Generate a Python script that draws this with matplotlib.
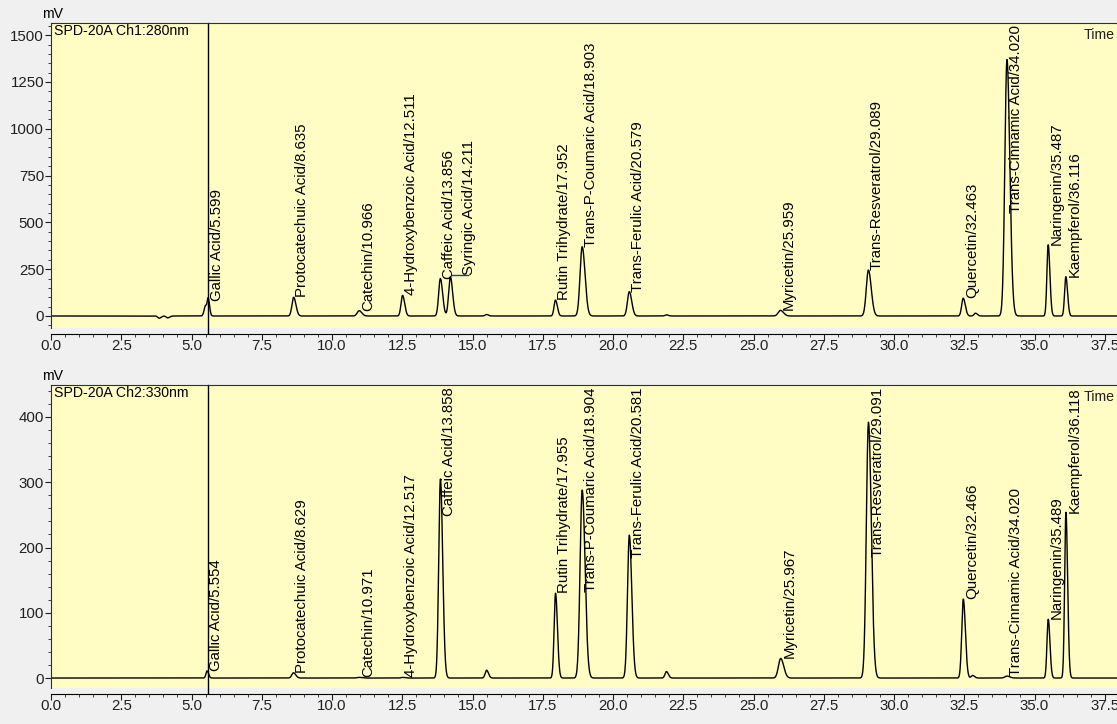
import numpy as np
import matplotlib
matplotlib.use("Agg")
import matplotlib.pyplot as plt
from matplotlib.ticker import MultipleLocator, FormatStrFormatter

plt.rcParams["font.family"] = ["Liberation Sans", "DejaVu Sans"]

# ---------------------------------------------------------------- data
# Ch1 : 280 nm
ch1_names = ["Gallic Acid", "Protocatechuic Acid", "Catechin", "4-Hydroxybenzoic Acid",
             "Caffeic Acid", "Syringic Acid", "Rutin Trihydrate", "Trans-P-Coumaric Acid",
             "Trans-Ferulic Acid", "Myricetin", "Trans-Resveratrol", "Quercetin",
             "Trans-Cinnamic Acid", "Naringenin", "Kaempferol"]
ch1_rt = [5.599, 8.635, 10.966, 12.511, 13.856, 14.211, 17.952, 18.903,
          20.579, 25.959, 29.089, 32.463, 34.020, 35.487, 36.116]
ch1_height = [78, 100, 28, 110, 200, 210, 85, 370, 130, 30, 245, 95, 1370, 380, 210]
ch1_sigma = [0.035, 0.06, 0.07, 0.055, 0.06, 0.06, 0.05, 0.075,
             0.065, 0.08, 0.075, 0.055, 0.075, 0.045, 0.045]
# unlabelled bumps / dips on the Ch1 baseline
ch1_minor_rt = [3.85, 4.15, 5.50, 15.5, 21.9, 32.9]
ch1_minor_height = [-12, -10, 55, 8, 6, 15]

# Ch2 : 330 nm (no Syringic acid)
ch2_names = ["Gallic Acid", "Protocatechuic Acid", "Catechin", "4-Hydroxybenzoic Acid",
             "Caffeic Acid", "Rutin Trihydrate", "Trans-P-Coumaric Acid",
             "Trans-Ferulic Acid", "Myricetin", "Trans-Resveratrol", "Quercetin",
             "Trans-Cinnamic Acid", "Naringenin", "Kaempferol"]
ch2_rt = [5.554, 8.629, 10.971, 12.517, 13.858, 17.955, 18.904,
          20.581, 25.967, 29.091, 32.466, 34.020, 35.489, 36.118]
ch2_height = [11, 8, 1, 1, 305, 130, 288, 219, 30, 392, 121, 3, 90, 254]
ch2_sigma = [0.04, 0.06, 0.07, 0.055, 0.06, 0.05, 0.075,
             0.065, 0.08, 0.075, 0.055, 0.075, 0.045, 0.045]
ch2_minor_rt = [15.5, 21.9, 32.8]
ch2_minor_height = [12, 10, 4]

event_time = 5.58
BG = "#f0f0f0"
PLOT_BG = "#fffdc4"
FS = 10.8


def trace(t, rts, heights, sigmas):
    y = np.zeros_like(t)
    for rt, h, s in zip(rts, heights, sigmas):
        # a little tailing on the right side
        sd = np.where(t < rt, s, s * 1.35)
        y += h * np.exp(-0.5 * ((t - rt) / sd) ** 2)
    return y


def panel(fig, rect, title, names, rts, heights, sigmas, mrt, mh, ylim, major, minor):
    ax = fig.add_axes(rect, facecolor=PLOT_BG)
    t = np.linspace(0, 40, 12000)
    y = trace(t, rts, heights, sigmas) + trace(t, mrt, mh, [0.05] * len(mrt))
    ax.plot(t, y, color="black", lw=1.0)
    ax.set_xlim(0, 40)
    ax.set_ylim(*ylim)

    ax.axvline(event_time, ymin=-0.015, ymax=1, color="black", lw=1.0, clip_on=False)

    for s in ("top", "left"):
        ax.spines[s].set_color("#303030")
    ax.spines["right"].set_visible(False)
    ax.spines["bottom"].set_position(("outward", 4))
    ax.xaxis.set_major_locator(MultipleLocator(2.5))
    ax.xaxis.set_minor_locator(MultipleLocator(0.5))
    ax.xaxis.set_major_formatter(FormatStrFormatter("%.1f"))
    ax.yaxis.set_major_locator(MultipleLocator(major))
    ax.yaxis.set_minor_locator(MultipleLocator(minor))
    ax.tick_params(which="major", length=4, labelsize=FS, pad=1, colors="#202020")
    ax.tick_params(which="minor", length=2.5, colors="#202020")
    ax.tick_params(axis="x", pad=0)

    ax.text(0.003, 0.997, title, transform=ax.transAxes, fontsize=FS - 0.6,
            ha="left", va="top")
    ax.text(36.75, 0.985, "Time", transform=ax.get_xaxis_transform(),
            fontsize=FS - 0.6, ha="left", va="top", color="#202020")
    fig.text(rect[0] - 0.008, rect[1] + rect[3] + 0.003, "mV", fontsize=FS - 0.6,
             ha="left", va="bottom")

    # peak labels: rotated, sitting on the apex, pushed down if they overflow
    labels = []
    prev_x = -10
    for name, rt, h in zip(names, rts, heights):
        lx = rt + 0.06
        if lx - prev_x < 0.5:
            lx = prev_x + 0.72
            ax.plot([rt + 0.05, lx + 0.2], [h + 8 * major / 250, h + 8 * major / 250],
                    color="#3030a0", lw=1.0)
            h = h + 8 * major / 250
        prev_x = lx
        txt = ax.text(lx, h, f"{name}/{rt:.3f}", rotation=90, fontsize=FS,
                      ha="left", va="bottom")
        labels.append(txt)
    return ax, labels


fig = plt.figure(figsize=(11.17, 7.24), dpi=100, facecolor=BG)
W = 40 * 28.1 / 1117
ax1, lab1 = panel(fig, [51 / 1117, 0.547, W, 0.421], "SPD-20A Ch1:280nm",
                  ch1_names, ch1_rt, ch1_height, ch1_sigma,
                  ch1_minor_rt, ch1_minor_height, (-64, 1564), 250, 50)
ax2, lab2 = panel(fig, [51 / 1117, 0.0497, W, 0.4185], "SPD-20A Ch2:330nm",
                  ch2_names, ch2_rt, ch2_height, ch2_sigma,
                  ch2_minor_rt, ch2_minor_height, (-15.3, 449), 100, 20)

fig.canvas.draw()
renderer = fig.canvas.get_renderer()
for ax, labels in ((ax1, lab1), (ax2, lab2)):
    top = ax.bbox.y1 - 2
    inv = ax.transData.inverted()
    for txt in labels:
        bb = txt.get_window_extent(renderer)
        if bb.y1 > top:
            x0, y0 = txt.get_position()
            px = ax.transData.transform((x0, y0))
            _, ny = inv.transform((px[0], px[1] - (bb.y1 - top)))
            txt.set_y(ny)

fig.savefig("out.png", dpi=100, facecolor=BG)
